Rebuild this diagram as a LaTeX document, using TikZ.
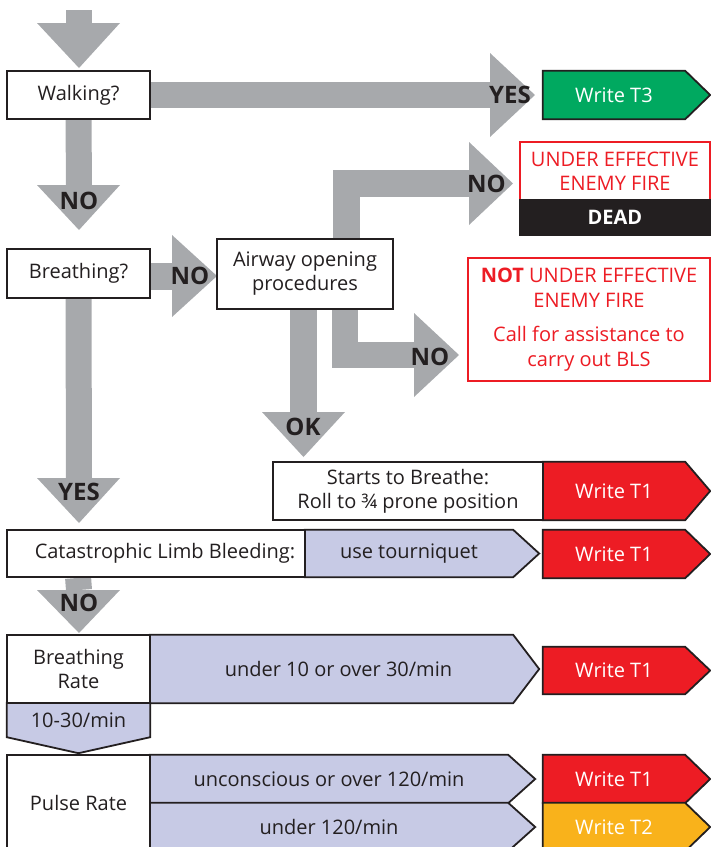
\documentclass[tikz,border=0pt]{standalone}
\usepackage{fontspec}
\setmainfont{Open Sans}
\usetikzlibrary{backgrounds,calc}
\definecolor{ink}{HTML}{231F20}
\definecolor{agrey}{HTML}{A7A9AC}
\definecolor{tgreen}{HTML}{00A960}
\definecolor{tred}{HTML}{ED1C24}
\definecolor{torange}{HTML}{F9B21B}
\definecolor{lav}{HTML}{C7CAE5}
\newcommand\tagshape[3]{%
  \filldraw[fill=#2, draw=ink, line width=1.8pt, line join=miter]
    (#1.north west) -- (#1.north east) -- ($(#1.east)+(#3,0)$) -- (#1.south east) -- (#1.south west) -- cycle;}
\tikzset{
  box/.style={draw=ink, line width=1.8pt, fill=white, inner sep=0pt, align=center,
    font=\fontsize{20}{24}\selectfont, text=ink},
  tagnode/.style={inner sep=0pt, align=center, font=\fontsize{20}{24}\selectfont, text=white},
  lavnode/.style={inner sep=0pt, align=center, font=\fontsize{20}{24}\selectfont, text=ink},
  lbl/.style={inner sep=0pt, font=\fontsize{24}{24}\selectfont\bfseries, text=ink},
  shaft/.style={draw=agrey, line width=26pt, line join=miter},
  head/.style={fill=agrey}
}
\begin{document}
\begin{tikzpicture}[x=1pt,y=-1pt]
\useasboundingbox (0,0) rectangle (711,847);
\clip (0,0) rectangle (711,847);

% ---------- nodes ----------
\node[box, minimum width=143pt, minimum height=48pt] (walk) at (78.5,95) {Walking?};
\node[tagnode, minimum width=142pt, minimum height=48pt] (t3) at (614,95) {Write T3};
\node[box, draw=tred, text=tred, minimum width=190pt, minimum height=58pt] (fire) at (615,171) {UNDER EFFECTIVE\\ENEMY FIRE};
\node[box, fill=ink, text=white, font=\fontsize{20}{24}\selectfont\bfseries, minimum width=190pt, minimum height=35pt] (dead) at (615,217.5) {DEAD};
\node[box, minimum width=143pt, minimum height=49pt] (breath) at (78.5,273.5) {Breathing?};
\node[box, minimum width=176pt, minimum height=70pt] (airway) at (305,274) {Airway opening\\procedures};
\node[box, draw=tred, text=tred, minimum width=242pt, minimum height=123pt, font=\fontsize{20}{25}\selectfont] (notfire) at (589,319.5)
  {{\bfseries NOT} UNDER EFFECTIVE\\ENEMY FIRE\\[9pt]Call for assistance to\\carry out BLS};
\node[box, minimum width=270pt, minimum height=58pt] (starts) at (408,491) {Starts to Breathe:\\Roll to ¾ prone position};
\node[tagnode, minimum width=142pt, minimum height=58pt] (t1a) at (614,491) {Write T1};
\node[box, minimum width=298pt, minimum height=47pt] (cat) at (156,553.5) {\hspace*{18pt}Catastrophic Limb Bleeding:};
\node[lavnode, minimum width=208pt, minimum height=47pt] (tourn) at (409,553.5) {use tourniquet};
\node[tagnode, minimum width=142pt, minimum height=48pt] (t1b) at (614,554) {Write T1};
\node[box, minimum width=143pt, minimum height=68pt] (brate) at (78.5,669) {Breathing\\Rate};
\node[lavnode, minimum width=363pt, minimum height=68pt] (under10) at (331.5,669) {\hspace*{14pt}under 10 or over 30/min};
\node[tagnode, minimum width=142pt, minimum height=47pt] (t1c) at (614,670.5) {Write T1};
\node[lavnode, minimum width=143pt, minimum height=34pt] (range) at (78.5,720) {10-30/min};
\node[box, minimum width=143pt, minimum height=96pt] (prate) at (78.5,803) {Pulse Rate};
\node[lavnode, minimum width=358pt, minimum height=48pt] (uncon) at (329,779) {unconscious or over 120/min};
\node[lavnode, minimum width=358pt, minimum height=48pt] (under120) at (329,827) {under 120/min};
\node[tagnode, minimum width=142pt, minimum height=48pt] (t1d) at (614,779) {Write T1};
\node[tagnode, minimum width=142pt, minimum height=48pt] (t2) at (614,827) {Write T2};

% ---------- background: arrows and tag shapes ----------
\begin{scope}[on background layer]
  % top entry arrow
  \coordinate (entry) at (79,10);
  \draw[shaft] (entry) -- (79,23);
  \fill[head] (37,23) -- (120,23) -- (79,68) -- cycle;
  % walking -> yes
  \draw[shaft] (walk.east) -- (490,95);
  \fill[head] (490,53) -- (535,95) -- (490,137) -- cycle;
  % walking -> no
  \draw[shaft] (walk.south) -- (79,185);
  \fill[head] (37,185) -- (120,185) -- (79,230) -- cycle;
  % breathing -> no -> airway
  \draw[shaft, line width=27pt] ($(breath.east)+(0,3)$) -- (172,276.5);
  \fill[head] (172,235) -- (217,276) -- (172,317) -- cycle;
  % airway -> no (up, under fire)
  \draw[shaft, line width=27pt] ($(airway.north)+(41.5,0)$) -- (346.5,183.5) -- (469,183.5);
  \fill[head] (469,142) -- (513,183.5) -- (469,225) -- cycle;
  % airway -> no (down, not under fire)
  \draw[shaft] ($(airway.south)+(40,0)$) -- (345,355) -- (414,355);
  \fill[head] (414,313) -- (459,355) -- (414,397) -- cycle;
  % airway -> ok
  \draw[shaft, line width=27pt] ($(airway.south)+(-1.5,0)$) -- (303.5,412);
  \fill[head] (262,412) -- (345,412) -- (303.5,457) -- cycle;
  % breathing -> yes
  \draw[shaft] (breath.south) -- (79,478);
  \fill[head] (37,478) -- (120,478) -- (79,523) -- cycle;
  % catastrophic -> no
  \draw[shaft] ($(cat.south west)+(72,0)$) -- (79,590);
  \fill[head] (37,590) -- (120,590) -- (79,633) -- cycle;

  % tag shapes
  \tagshape{t3}{tgreen}{25}
  \tagshape{t1a}{tred}{25}
  \tagshape{t1b}{tred}{25}
  \tagshape{t1c}{tred}{25}
  \tagshape{t1d}{tred}{25}
  \tagshape{t2}{torange}{25}
  \tagshape{tourn}{lav}{26}
  \tagshape{under10}{lav}{26}
  \tagshape{uncon}{lav}{27}
  \tagshape{under120}{lav}{27}
  \filldraw[fill=lav, draw=ink, line width=1.8pt, line join=miter]
    (range.north west) -- (range.north east) -- (range.south east) -- ($(range.south)+(0,16)$) -- (range.south west) -- cycle;
\end{scope}

% ---------- arrow labels ----------
\node[lbl, anchor=east] (lyes1) at (531,95) {YES};
\node[lbl] (lno1) at (79,201) {NO};
\node[lbl] (lno2) at (190,276) {NO};
\node[lbl, anchor=east] (lno3) at (506,184) {NO};
\node[lbl] (lno4) at (430,357) {NO};
\node[lbl] (lok) at (303,427) {OK};
\node[lbl] (lyes2) at (79,492) {YES};
\node[lbl] (lno5) at (79,603) {NO};
\end{tikzpicture}
\end{document}
